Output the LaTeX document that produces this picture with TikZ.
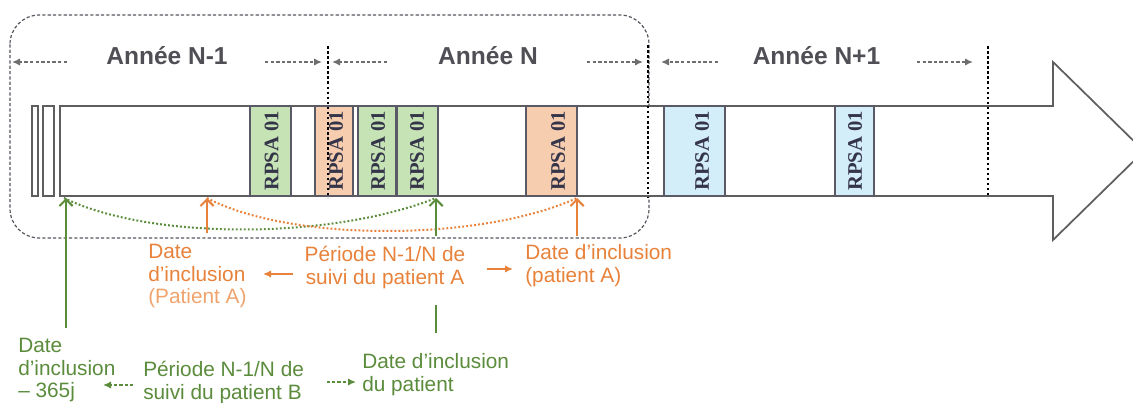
\documentclass[tikz,border=0pt]{standalone}
\usepackage{fontspec}
\setmainfont{Liberation Sans}
\newfontfamily\serifbold{Liberation Serif}
\usetikzlibrary{arrows.meta}
\definecolor{linegray}{HTML}{5E5E5E}
\definecolor{yeargray}{HTML}{4F4F55}
\definecolor{dashgray}{HTML}{6E6E6E}
\definecolor{framegray}{HTML}{55555F}
\definecolor{boxgray}{HTML}{5A5A66}
\definecolor{gfill}{HTML}{C6E3B5}
\definecolor{ofill}{HTML}{F7CDB0}
\definecolor{bfill}{HTML}{D3EDF9}
\definecolor{mygreen}{HTML}{5B8C3C}
\definecolor{myorange}{HTML}{E8823A}
\definecolor{lightorange}{HTML}{EFA46E}
\definecolor{rpsatext}{HTML}{35354A}
\begin{document}
\begin{tikzpicture}[x=0.75pt,y=-0.75pt,
  frame/.style={draw=framegray, line width=0.9pt, dash pattern=on 2.4pt off 1.6pt, rounded corners=22pt},
  bodyline/.style={draw=linegray, line width=1.3pt, line join=miter},
  rpsabox/.style={draw=boxgray, line width=1pt, inner sep=0, minimum height=67.5pt},
  rpsatxt/.style={rotate=90, font=\serifbold\bfseries\fontsize{15.5}{16}\selectfont, text=rpsatext, inner sep=0},
  yearlbl/.style={font=\fontsize{18.4}{20}\selectfont\bfseries, text=yeargray, inner sep=0, anchor=base},
  yeararrow/.style={draw=dashgray, line width=1.1pt, dash pattern=on 2.6pt off 1.6pt, -{Latex[length=6pt,width=5.5pt]}},
  yeardots/.style={draw=black, line width=1.9pt, dash pattern=on 1.9pt off 1.9pt},
  garc/.style={draw=mygreen, line width=1.5pt, dash pattern=on 1.4pt off 1.6pt},
  oarc/.style={draw=myorange, line width=1.5pt, dash pattern=on 1.4pt off 1.6pt},
  gup/.style={draw=mygreen, line width=1.7pt, -{Straight Barb[length=5pt,width=10pt,line width=1.5pt]}},
  oup/.style={draw=myorange, line width=1.7pt, -{Straight Barb[length=5pt,width=10pt,line width=1.5pt]}},
  otxt/.style={font=\fontsize{15.6}{17}\selectfont, text=myorange, inner sep=0, align=left},
  gtxt/.style={font=\fontsize{15.6}{17}\selectfont, text=mygreen, inner sep=0, align=left},
  osmall/.style={draw=myorange, line width=1.4pt, -{Latex[length=6pt,width=5.5pt]}},
  gsmall/.style={draw=mygreen, line width=1.2pt, dash pattern=on 2.4pt off 1.5pt, -{Latex[length=6pt,width=5.5pt]}}
]
\useasboundingbox (0,0) rectangle (1133,403);
\fill[white] (0,0) rectangle (1133,403);

% dashed frame around years N-1 and N
\draw[frame] (10,15) rectangle (649,238);

% main arrow
\draw[bodyline, fill=white] (60,106) -- (1053,106) -- (1053,62) -- (1144,151) -- (1053,240) -- (1053,196) -- (60,196) -- cycle;
\draw[bodyline] (32,106) rectangle (38,196);
\draw[bodyline] (43,106) rectangle (54,196);

% RPSA boxes
\node[rpsabox, fill=gfill, minimum width=30.75pt] (g1) at (270.5,151) {};
\node[rpsabox, fill=ofill, minimum width=28.5pt] (o1) at (334,151) {};
\node[rpsabox, fill=gfill, minimum width=28.5pt] (g2) at (377,151) {};
\node[rpsabox, fill=gfill, minimum width=30.75pt] (g3) at (417.5,151) {};
\node[rpsabox, fill=ofill, minimum width=38.25pt] (o2) at (551.5,151) {};
\node[rpsabox, fill=bfill, minimum width=45.75pt] (b1) at (694.5,151) {};
\node[rpsabox, fill=bfill, minimum width=29.25pt] (b2) at (854.5,151) {};

\node[rpsatxt] (g1t) at (271.5,151) {RPSA 01};
\node[rpsatxt] (o1t) at (336,151) {RPSA 01};
\node[rpsatxt] (g2t) at (378,151) {RPSA 01};
\node[rpsatxt] (g3t) at (417,151) {RPSA 01};
\node[rpsatxt] (o2t) at (558,151) {RPSA 01};
\node[rpsatxt] (b1t) at (702,151) {RPSA 01};
\node[rpsatxt] (b2t) at (855,151) {RPSA 01};

% year boundaries
\coordinate (y1t) at (328,46); \coordinate (y1b) at (328,198);
\coordinate (y2t) at (648,45); \coordinate (y2b) at (648,198);
\coordinate (y3t) at (988,46); \coordinate (y3b) at (988,198);
\draw[yeardots] (y1t) -- (y1b);
\draw[yeardots] (y2t) -- (y2b);
\draw[yeardots] (y3t) -- (y3b);

% year labels
\node[yearlbl] (ya) at (167,65) {Année N-1};
\node[yearlbl] (yb) at (488,65) {Année N};
\node[yearlbl] (yc) at (816.5,65) {Année N+1};

\coordinate (a1s) at (67,62);  \coordinate (a1e) at (12,62);
\coordinate (a2s) at (265,62); \coordinate (a2e) at (322,62);
\coordinate (b1s) at (387,62); \coordinate (b1e) at (332,62);
\coordinate (b2s) at (587,62); \coordinate (b2e) at (643,62);
\coordinate (c1s) at (718,62); \coordinate (c1e) at (661,62);
\coordinate (c2s) at (917,62); \coordinate (c2e) at (973,62);
\draw[yeararrow] (a1s) -- (a1e);
\draw[yeararrow] (a2s) -- (a2e);
\draw[yeararrow] (b1s) -- (b1e);
\draw[yeararrow] (b2s) -- (b2e);
\draw[yeararrow] (c1s) -- (c1e);
\draw[yeararrow] (c2s) -- (c2e);

% dotted arcs
\coordinate (gA) at (64,198); \coordinate (gB) at (436,198);
\coordinate (oA) at (207,198); \coordinate (oB) at (577,198);
\draw[garc] (gA) .. controls (150,240) and (330,240) .. (gB);
\draw[oarc] (oA) .. controls (290,242) and (480,242) .. (oB);

% vertical arrows
\coordinate (v1b) at (66,328);  \coordinate (v1t) at (66,198);
\coordinate (v2b) at (207,233); \coordinate (v2t) at (207,198);
\coordinate (v3b) at (436,236); \coordinate (v3t) at (436,198);
\coordinate (v4b) at (577,236); \coordinate (v4t) at (577,198);
\draw[gup] (v1b) -- (v1t);
\draw[oup] (v2b) -- (v2t);
\draw[gup] (v3b) -- (v3t);
\draw[oup] (v4b) -- (v4t);
\coordinate (s1t) at (436,305); \coordinate (s1b) at (436,333);
\draw[draw=mygreen, line width=1.7pt] (s1t) -- (s1b);

% orange texts (patient A)
\node[otxt, anchor=north west] (oleft) at (148,244) {Date\\d’inclusion\\\textcolor{lightorange}{(Patient A)}};
\node[otxt, anchor=north, align=center] (omid) at (385,246) {Période N-1/N de\\suivi du patient A};
\node[otxt, anchor=north west] (oright) at (525,244) {Date d’inclusion\\(patient A)};
\coordinate (oh1s) at (293,274); \coordinate (oh1e) at (263,274);
\coordinate (oh2s) at (487,269); \coordinate (oh2e) at (513,269);
\draw[osmall] (oh1s) -- (oh1e);
\draw[osmall] (oh2s) -- (oh2e);

% green texts (patient B)
\node[gtxt, anchor=north west] (gleft) at (18,338) {Date\\d’inclusion\\– 365j};
\node[gtxt, anchor=north west] (gmid) at (143,361) {Période N-1/N de\\suivi du patient B};
\node[gtxt, anchor=north west] (gright) at (362,353) {Date d’inclusion\\du patient};
\coordinate (gh1s) at (133,385); \coordinate (gh1e) at (103,385);
\coordinate (gh2s) at (327,382); \coordinate (gh2e) at (356,382);
\draw[gsmall] (gh1s) -- (gh1e);
\draw[gsmall] (gh2s) -- (gh2e);
\end{tikzpicture}
\end{document}
